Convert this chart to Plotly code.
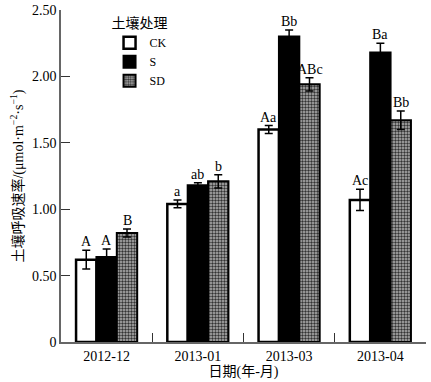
import plotly.graph_objects as go

dates = ["2012-12", "2013-01", "2013-03", "2013-04"]
ck = [0.62, 1.04, 1.60, 1.07]
s = [0.64, 1.18, 2.30, 2.18]
sd = [0.82, 1.21, 1.94, 1.67]
ck_err = [0.07, 0.03, 0.03, 0.08]
s_err = [0.06, 0.02, 0.05, 0.07]
sd_err = [0.03, 0.05, 0.05, 0.07]
ck_lab = ["A", "a", "Aa", "Ac"]
s_lab = ["A", "ab", "Bb", "Ba"]
sd_lab = ["B", "b", "ABc", "Bb"]
yticks = [0, 0.5, 1.0, 1.5, 2.0, 2.5]
yticktext = ["0", "0.50", "1.00", "1.50", "2.00", "2.50"]

FONT = "Liberation Serif, Noto Sans CJK SC, serif"
BARGAP = 0.33

fig = go.Figure()
err_style = dict(type="data", color="black", thickness=1.5, width=4)
fig.add_trace(go.Bar(name="CK", x=dates, y=ck,
                     error_y=dict(array=ck_err, **err_style),
                     marker=dict(color="white", line=dict(color="black", width=2.5))))
fig.add_trace(go.Bar(name="S", x=dates, y=s,
                     error_y=dict(array=s_err, **err_style),
                     marker=dict(color="black", line=dict(color="black", width=2))))
fig.add_trace(go.Bar(name="SD", x=dates, y=sd,
                     error_y=dict(array=sd_err, **err_style),
                     marker=dict(color="#8a8a8a", line=dict(color="black", width=2),
                                 pattern=dict(shape=".", fgcolor="#333333", bgcolor="#b4b4b4",
                                              size=3, solidity=0.5))))

w = (1 - BARGAP) / 3
annotations = []
for k, (vals, errs, labs) in enumerate([(ck, ck_err, ck_lab), (s, s_err, s_lab), (sd, sd_err, sd_lab)]):
    for i in range(len(dates)):
        annotations.append(dict(x=i + (k - 1) * w, y=vals[i] + errs[i], xref="x", yref="y",
                                text=labs[i], showarrow=False, yanchor="bottom", yshift=-1,
                                font=dict(family=FONT, size=14, color="black")))

fig.update_layout(
    template="none",
    width=431, height=382,
    margin=dict(l=61, r=5, t=10, b=40, autoexpand=False),
    plot_bgcolor="white", paper_bgcolor="white",
    barmode="group", bargap=BARGAP, bargroupgap=0,
    font=dict(family=FONT, size=14, color="black"),
    showlegend=True,
    legend=dict(title=dict(text="土壤处理", font=dict(family=FONT, size=14)),
                x=0.133, y=1.0, xanchor="left", yanchor="top",
                bgcolor="rgba(0,0,0,0)", borderwidth=0,
                font=dict(family=FONT, size=12, color="black")),
    annotations=annotations,
    xaxis=dict(type="category", automargin=False,
               title=dict(text="日期(年-月)", font=dict(family=FONT, size=14), standoff=2),
               showline=True, linecolor="#666", linewidth=1.5,
               ticks="inside", ticklen=9, tickcolor="#333", tickwidth=1, tickson="boundaries",
               showgrid=False, zeroline=False, tickfont=dict(family=FONT, size=14)),
    yaxis=dict(automargin=False, ticklabeloverflow="allow",
               title=dict(text="土壤呼吸速率/(μmol·m<sup>−2</sup>·s<sup>−1</sup>)",
                          font=dict(family=FONT, size=14)),
               range=[0, 2.5], tickvals=yticks, ticktext=yticktext,
               showline=True, linecolor="#666", linewidth=1.5,
               ticks="inside", ticklen=9, tickcolor="#333", tickwidth=1,
               showgrid=False, zeroline=False, tickfont=dict(family=FONT, size=14)),
)

fig.write_html("out.html", config={"displayModeBar": False},
               post_script="document.body.style.margin='0px';")
